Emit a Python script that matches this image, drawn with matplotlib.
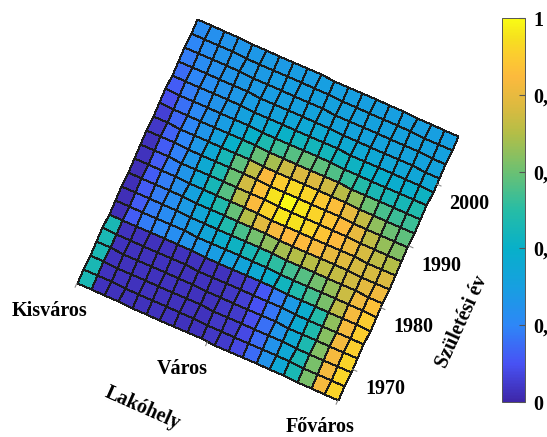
import numpy as np
import matplotlib
matplotlib.use("Agg")
import matplotlib.pyplot as plt
from matplotlib.colors import LinearSegmentedColormap
from matplotlib.transforms import Affine2D

# --- data -----------------------------------------------------------------
residence_labels = ["Kisváros", "Város", "Főváros"]
residence_ticks = [1, 2, 3]
year_ticks = [1970, 1980, 1990, 2000]
year_range = (1965.0, 2007.75)
cbar_ticks = [0, 0.2, 0.4, 0.6, 0.8, 1]
cbar_labels = ["0", "0,2", "0,4", "0,6", "0,8", "1"]

# rows: birth-year bands from oldest to youngest; columns: Kisváros -> Főváros
share = np.array([
    [0.46, 0.03, 0.03, 0.03, 0.03, 0.03, 0.03, 0.03, 0.03, 0.04, 0.05, 0.08, 0.15, 0.25, 0.35, 0.46, 0.62, 0.83, 0.92],
    [0.46, 0.03, 0.03, 0.03, 0.03, 0.03, 0.03, 0.03, 0.03, 0.04, 0.05, 0.08, 0.15, 0.25, 0.35, 0.46, 0.62, 0.83, 0.92],
    [0.46, 0.03, 0.03, 0.03, 0.03, 0.03, 0.03, 0.03, 0.03, 0.04, 0.05, 0.09, 0.16, 0.26, 0.36, 0.47, 0.63, 0.83, 0.92],
    [0.46, 0.03, 0.03, 0.03, 0.03, 0.03, 0.03, 0.03, 0.03, 0.04, 0.06, 0.10, 0.17, 0.27, 0.37, 0.48, 0.64, 0.83, 0.91],
    [0.46, 0.03, 0.03, 0.03, 0.03, 0.03, 0.03, 0.03, 0.03, 0.04, 0.06, 0.11, 0.18, 0.28, 0.38, 0.49, 0.65, 0.83, 0.91],
    [0.02, 0.12, 0.18, 0.21, 0.23, 0.25, 0.27, 0.29, 0.31, 0.33, 0.36, 0.39, 0.43, 0.48, 0.54, 0.62, 0.72, 0.83, 0.90],
    [0.02, 0.12, 0.18, 0.22, 0.26, 0.30, 0.34, 0.38, 0.42, 0.45, 0.48, 0.51, 0.54, 0.57, 0.61, 0.66, 0.74, 0.82, 0.87],
    [0.02, 0.12, 0.18, 0.23, 0.28, 0.34, 0.41, 0.48, 0.55, 0.61, 0.65, 0.68, 0.70, 0.71, 0.72, 0.73, 0.75, 0.79, 0.82],
    [0.02, 0.12, 0.18, 0.24, 0.31, 0.39, 0.48, 0.59, 0.70, 0.78, 0.83, 0.85, 0.85, 0.83, 0.80, 0.78, 0.76, 0.76, 0.77],
    [0.03, 0.12, 0.19, 0.26, 0.35, 0.45, 0.57, 0.71, 0.84, 0.92, 0.96, 0.95, 0.92, 0.88, 0.85, 0.81, 0.76, 0.72, 0.70],
    [0.03, 0.12, 0.19, 0.27, 0.36, 0.47, 0.60, 0.75, 0.87, 0.95, 1.00, 0.96, 0.92, 0.88, 0.85, 0.80, 0.72, 0.66, 0.63],
    [0.04, 0.13, 0.20, 0.27, 0.35, 0.45, 0.58, 0.72, 0.84, 0.90, 0.93, 0.92, 0.89, 0.86, 0.80, 0.73, 0.65, 0.60, 0.58],
    [0.06, 0.14, 0.20, 0.26, 0.32, 0.40, 0.49, 0.59, 0.68, 0.74, 0.77, 0.77, 0.75, 0.71, 0.66, 0.60, 0.55, 0.53, 0.53],
    [0.09, 0.16, 0.21, 0.25, 0.29, 0.34, 0.40, 0.47, 0.53, 0.57, 0.59, 0.58, 0.56, 0.52, 0.49, 0.46, 0.45, 0.45, 0.48],
    [0.12, 0.18, 0.22, 0.25, 0.28, 0.31, 0.34, 0.37, 0.41, 0.43, 0.44, 0.44, 0.43, 0.42, 0.40, 0.39, 0.38, 0.39, 0.42],
    [0.15, 0.20, 0.23, 0.25, 0.27, 0.29, 0.30, 0.32, 0.34, 0.35, 0.36, 0.36, 0.36, 0.35, 0.35, 0.34, 0.34, 0.34, 0.35],
    [0.18, 0.22, 0.24, 0.26, 0.27, 0.28, 0.29, 0.30, 0.31, 0.32, 0.32, 0.32, 0.32, 0.32, 0.32, 0.32, 0.32, 0.32, 0.32],
    [0.20, 0.23, 0.25, 0.26, 0.27, 0.28, 0.29, 0.30, 0.30, 0.31, 0.31, 0.31, 0.31, 0.31, 0.31, 0.31, 0.31, 0.31, 0.31],
    [0.22, 0.24, 0.25, 0.26, 0.27, 0.28, 0.28, 0.29, 0.29, 0.30, 0.30, 0.30, 0.30, 0.30, 0.30, 0.30, 0.30, 0.30, 0.30],
])

# --- parula-like colour map (position, rgb) ----------------------------------
parula_pos = [0.00, 0.10, 0.20, 0.30, 0.40, 0.50, 0.60, 0.70, 0.77, 0.85, 0.91, 0.95, 1.00]
parula_rgb = [
    (0.2422, 0.1504, 0.6603),
    (0.2810, 0.3228, 0.9579),
    (0.1786, 0.5289, 0.9682),
    (0.0900, 0.6250, 0.8800),
    (0.0300, 0.6900, 0.7900),
    (0.1500, 0.7400, 0.6500),
    (0.4200, 0.7550, 0.4500),
    (0.7000, 0.7450, 0.2800),
    (0.8600, 0.7300, 0.2500),
    (0.9900, 0.7300, 0.2400),
    (0.9850, 0.8100, 0.1800),
    (0.9650, 0.8800, 0.1200),
    (0.9769, 0.9839, 0.0805),
]
parula = LinearSegmentedColormap.from_list("parula", list(zip(parula_pos, parula_rgb)), N=256)

# --- figure ----------------------------------------------------------------
W, H = 547, 437
fig = plt.figure(figsize=(W / 100, H / 100), dpi=100)
ax = fig.add_axes([0, 0, 1, 1])
ax.set_xlim(0, W)
ax.set_ylim(H, 0)
ax.axis("off")

# top-down view of the surface: map (residence, year) onto a rotated square
left = np.array([77.0, 283.0])     # Kisváros, oldest year
bottom = np.array([338.0, 400.0])  # Főváros, oldest year
top = np.array([197.0, 19.0])      # Kisváros, youngest year
y0, y1 = year_range
a = (bottom - left) / (residence_ticks[-1] - residence_ticks[0])
b = (top - left) / (y1 - y0)
off = left - a * residence_ticks[0] - b * y0
plane = Affine2D(np.array([[a[0], b[0], off[0]],
                           [a[1], b[1], off[1]],
                           [0, 0, 1]]))
tr = plane + ax.transData

n_rows, n_cols = share.shape
r_edges = np.linspace(residence_ticks[0], residence_ticks[-1], n_cols + 1)
y_edges = np.linspace(y0, y1, n_rows + 1)
mesh = ax.pcolormesh(r_edges, y_edges, share, cmap=parula, vmin=0, vmax=1,
                     edgecolors="#1c1c1c", linewidth=0.75, transform=tr)

font = dict(family="Liberation Serif", weight="bold", size=14.5)
tick_col = "#8a8a8a"

# residence ticks and labels along the lower-left edge
tick_len_y = 0.75
for r, lab, (dx, dy) in zip(residence_ticks, residence_labels,
                            [(-27, 28), (-25, 27), (-18, 27)]):
    ax.plot([r, r], [y0, y0 - tick_len_y], color=tick_col, lw=0.8, transform=tr,
            solid_capstyle="butt")
    px, py = plane.transform((r, y0))
    ax.text(px + dx, py + dy, lab, ha="center", va="center", **font)

# birth-year ticks and labels along the lower-right edge
tick_len_r = 0.04
for yr in year_ticks:
    ax.plot([residence_ticks[-1], residence_ticks[-1] + tick_len_r], [yr, yr],
            color=tick_col, lw=0.8, transform=tr, solid_capstyle="butt")
    px, py = plane.transform((residence_ticks[-1], yr))
    ax.text(px + 33, py + 20, str(yr), ha="center", va="center", **font)

ax.text(143, 408, "Lakóhely", rotation=-24, ha="center", va="center",
        rotation_mode="anchor", **font)
ax.text(462, 322, "Születési év", rotation=65.5, ha="center", va="center",
        rotation_mode="anchor", **font)

# --- colour bar -------------------------------------------------------------
cax = fig.add_axes([502 / W, 1 - 402 / H, 23 / W, 384 / H])
cb = fig.colorbar(mesh, cax=cax, ticks=cbar_ticks)
cb.ax.set_yticklabels(cbar_labels)
cb.outline.set_edgecolor("#555555")
cb.outline.set_linewidth(0.7)
cb.ax.tick_params(direction="in", length=4, width=0.8, color="#555555",
                  pad=6)
for t in cb.ax.get_yticklabels():
    t.set_fontfamily("Liberation Serif")
    t.set_fontweight("bold")
    t.set_fontsize(14.5)

fig.savefig("out.png", dpi=100)
